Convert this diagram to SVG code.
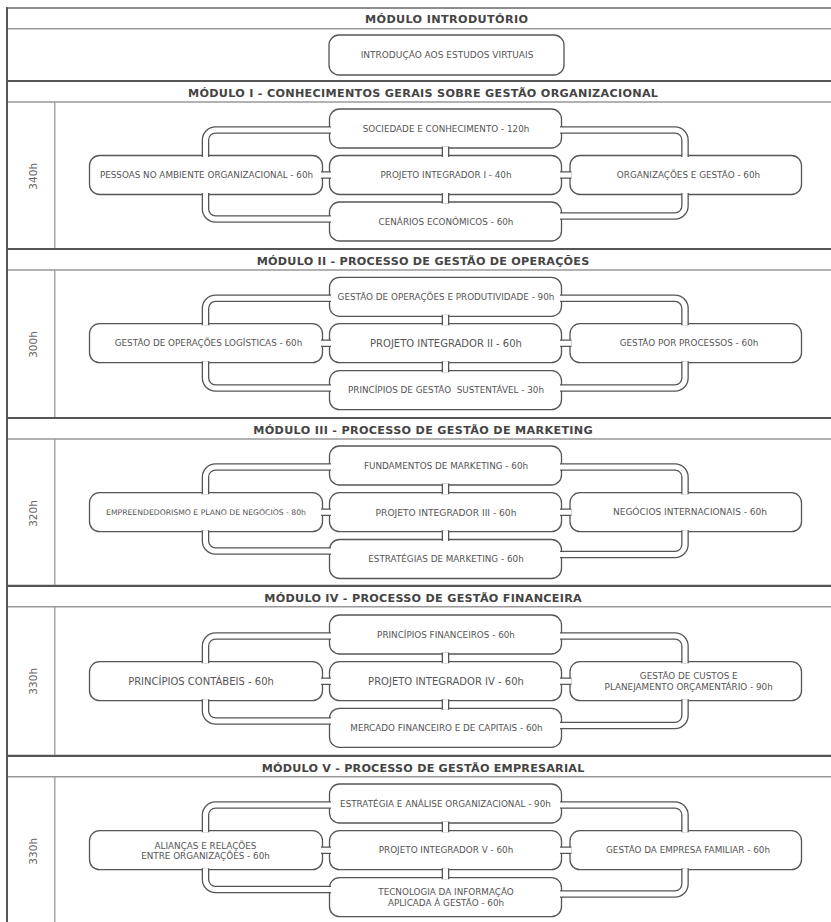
<svg xmlns="http://www.w3.org/2000/svg" xmlns:xlink="http://www.w3.org/1999/xlink" width="831" height="922" viewBox="0 0 831 922">
<style>
.box{fill:#fff;stroke:#555;stroke-width:1.3}
.t{font-family:"DejaVu Sans",Verdana,sans-serif;font-size:8.8px;fill:#555;text-anchor:middle}
.big{font-size:10px}
.h{font-family:"DejaVu Sans",Verdana,sans-serif;font-weight:bold;font-size:11.2px;fill:#444;text-anchor:middle}
.hr{font-family:"DejaVu Sans",Verdana,sans-serif;font-size:10.5px;fill:#666;text-anchor:middle}
.pg{fill:none;stroke:#555;stroke-width:7.6}
.pw{fill:none;stroke:#fff;stroke-width:5}
.thick{stroke:#555;stroke-width:2.2}
.thin{stroke:#999;stroke-width:1.5}
.div{stroke:#999;stroke-width:1.3}
</style>
<defs>
<!-- Module I -->
<path id="c1a" d="M331,130 H215.5 A10 10 0 0 0 205.5,140 V157"/>
<path id="c1b" d="M205.5,193 V209 A10 10 0 0 0 215.5,219 H331"/>
<path id="c1c" d="M560,130 H675 A10 10 0 0 1 685,140 V157"/>
<path id="c1d" d="M685,193 V206 A10 10 0 0 1 675,216 H560"/>
<path id="c1e" d="M445.5,146.5 V157 M445.5,193 V203.5"/>
<path id="c1f" d="M321,175 H331 M560,175 H571.5"/>
<!-- Module II -->
<path id="c2a" d="M331,298.3 H215.5 A10 10 0 0 0 205.5,308.3 V325.2"/>
<path id="c2b" d="M205.5,361.2 V378 A10 10 0 0 0 215.5,388 H331"/>
<path id="c2c" d="M560,298.3 H675 A10 10 0 0 1 685,308.3 V325.2"/>
<path id="c2d" d="M685,361.2 V378 A10 10 0 0 1 675,388 H560"/>
<path id="c2e" d="M445.5,314.8 V325.2 M445.5,361.2 V372.2"/>
<path id="c2f" d="M321,343.2 H331 M560,343.2 H571.5"/>
<!-- Module III -->
<path id="c3a" d="M331,467 H215.5 A10 10 0 0 0 205.5,477 V494.2"/>
<path id="c3b" d="M205.5,530.2 V541 A10 10 0 0 0 215.5,551 H331"/>
<path id="c3c" d="M560,467 H675 A10 10 0 0 1 685,477 V494.2"/>
<path id="c3d" d="M685,530.2 V544.5 A10 10 0 0 1 675,554.5 H560"/>
<path id="c3e" d="M445.5,483.5 V494.2 M445.5,530.2 V541"/>
<path id="c3f" d="M321,512.2 H331 M560,512.2 H571.5"/>
<!-- Module IV -->
<path id="c4a" d="M331,636 H215.5 A10 10 0 0 0 205.5,646 V663.2"/>
<path id="c4b" d="M205.5,699.2 V711 A10 10 0 0 0 215.5,721 H331"/>
<path id="c4c" d="M560,636 H675 A10 10 0 0 1 685,646 V663.2"/>
<path id="c4d" d="M685,699.2 V715.5 A10 10 0 0 1 675,725.5 H560"/>
<path id="c4e" d="M445.5,652.5 V663.2 M445.5,699.2 V709.8"/>
<path id="c4f" d="M321,681.2 H331 M560,681.2 H571.5"/>
<!-- Module V -->
<path id="c5a" d="M331,805 H215.5 A10 10 0 0 0 205.5,815 V832.2"/>
<path id="c5b" d="M205.5,868.2 V879.5 A10 10 0 0 0 215.5,889.5 H331"/>
<path id="c5c" d="M560,805 H675 A10 10 0 0 1 685,815 V832.2"/>
<path id="c5d" d="M685,868.2 V884 A10 10 0 0 1 675,894 H560"/>
<path id="c5e" d="M445.5,821.5 V832.2 M445.5,868.2 V879.2"/>
<path id="c5f" d="M321,850.2 H331 M560,850.2 H571.5"/>
</defs>

<g id="grid">
<line x1="6" y1="8" x2="831" y2="8" stroke="#666" stroke-width="1.5"/>
<line x1="6" y1="28.7" x2="831" y2="28.7" class="thin"/>
<line x1="6" y1="81" x2="831" y2="81" class="thick"/>
<line x1="6" y1="102" x2="831" y2="102" class="thin"/>
<line x1="6" y1="249" x2="831" y2="249" class="thick"/>
<line x1="6" y1="270" x2="831" y2="270" class="thin"/>
<line x1="6" y1="418" x2="831" y2="418" class="thick"/>
<line x1="6" y1="439" x2="831" y2="439" class="thin"/>
<line x1="6" y1="585.8" x2="831" y2="585.8" class="thick"/>
<line x1="6" y1="606.8" x2="831" y2="606.8" class="thin"/>
<line x1="6" y1="755.8" x2="831" y2="755.8" class="thick"/>
<line x1="6" y1="776.8" x2="831" y2="776.8" class="thin"/>
<line x1="54.8" y1="102" x2="54.8" y2="248" class="div"/>
<line x1="54.8" y1="270" x2="54.8" y2="417" class="div"/>
<line x1="54.8" y1="439" x2="54.8" y2="585" class="div"/>
<line x1="54.8" y1="606.8" x2="54.8" y2="755" class="div"/>
<line x1="54.8" y1="776.8" x2="54.8" y2="922" class="div"/>
<line x1="7" y1="7.3" x2="7" y2="922" stroke="#555" stroke-width="2"/>
</g>

<g id="headers">
<text class="h" x="446.5" y="23.3" textLength="163" lengthAdjust="spacing">MÓDULO INTRODUTÓRIO</text>
<text class="h" x="423" y="96.8" textLength="470" lengthAdjust="spacing">MÓDULO I - CONHECIMENTOS GERAIS SOBRE GESTÃO ORGANIZACIONAL</text>
<text class="h" x="423" y="264.8" textLength="332.6" lengthAdjust="spacing">MÓDULO II - PROCESSO DE GESTÃO DE OPERAÇÕES</text>
<text class="h" x="423" y="433.8" textLength="339.4" lengthAdjust="spacing">MÓDULO III - PROCESSO DE GESTÃO DE MARKETING</text>
<text class="h" x="423" y="601.6" textLength="317.4" lengthAdjust="spacing">MÓDULO IV - PROCESSO DE GESTÃO FINANCEIRA</text>
<text class="h" x="423" y="771.6" textLength="322.6" lengthAdjust="spacing">MÓDULO V - PROCESSO DE GESTÃO EMPRESARIAL</text>
</g>

<g id="hours">
<text class="hr" transform="translate(36.5,176.3) rotate(-90)">340h</text>
<text class="hr" transform="translate(36.5,344.5) rotate(-90)">300h</text>
<text class="hr" transform="translate(36.5,513.5) rotate(-90)">320h</text>
<text class="hr" transform="translate(36.5,681.3) rotate(-90)">330h</text>
<text class="hr" transform="translate(36.5,851.3) rotate(-90)">330h</text>
</g>

<g id="intro"><rect class="box" x="329" y="35" width="235" height="40" rx="10"/><text class="t" style="font-size:9px" x="447" y="58.3">INTRODUÇÃO AOS ESTUDOS VIRTUAIS</text></g>

<!-- Module I nodes -->
<g id="m1-top"><rect class="box" x="329.5" y="109" width="232" height="39" rx="10"/><text class="t" x="446" y="131.7">SOCIEDADE E CONHECIMENTO - 120h</text></g>
<g id="m1-mid"><rect class="box" x="329.5" y="155.5" width="232" height="39" rx="10"/><text class="t" x="446" y="178.2">PROJETO INTEGRADOR I - 40h</text></g>
<g id="m1-bot"><rect class="box" x="329.5" y="202" width="232" height="39" rx="10"/><text class="t" x="446" y="224.7">CENÁRIOS ECONÔMICOS - 60h</text></g>
<g id="m1-left"><rect class="box" x="89.5" y="155.5" width="233" height="39" rx="10"/><text class="t" x="206.5" y="178.2">PESSOAS NO AMBIENTE ORGANIZACIONAL - 60h</text></g>
<g id="m1-right"><rect class="box" x="570" y="155.5" width="231.5" height="39" rx="10"/><text class="t" x="688.5" y="178.2">ORGANIZAÇÕES E GESTÃO - 60h</text></g>

<!-- Module II nodes -->
<g id="m2-top"><rect class="box" x="329.5" y="277.3" width="232" height="39" rx="10"/><text class="t" x="446" y="300">GESTÃO DE OPERAÇÕES E PRODUTIVIDADE - 90h</text></g>
<g id="m2-mid"><rect class="box" x="329.5" y="323.7" width="232" height="39" rx="10"/><text class="t big" x="446" y="346.8">PROJETO INTEGRADOR II - 60h</text></g>
<g id="m2-bot"><rect class="box" x="329.5" y="370.7" width="232" height="39" rx="10"/><text class="t" x="446" y="393.4" xml:space="preserve">PRINCÍPIOS DE GESTÃO  SUSTENTÁVEL - 30h</text></g>
<g id="m2-left"><rect class="box" x="89.5" y="323.7" width="233" height="39" rx="10"/><text class="t" x="208.5" y="346.4">GESTÃO DE OPERAÇÕES LOGÍSTICAS - 60h</text></g>
<g id="m2-right"><rect class="box" x="570" y="323.7" width="231.5" height="39" rx="10"/><text class="t" x="689" y="346.4">GESTÃO POR PROCESSOS - 60h</text></g>

<!-- Module III nodes -->
<g id="m3-top"><rect class="box" x="329.5" y="446" width="232" height="39" rx="10"/><text class="t" x="446" y="468.7">FUNDAMENTOS DE MARKETING - 60h</text></g>
<g id="m3-mid"><rect class="box" x="329.5" y="492.7" width="232" height="39" rx="10"/><text class="t" style="font-size:9.1px" x="446" y="515.5">PROJETO INTEGRADOR III - 60h</text></g>
<g id="m3-bot"><rect class="box" x="329.5" y="539.5" width="232" height="39" rx="10"/><text class="t" x="446" y="562.2">ESTRATÉGIAS DE MARKETING - 60h</text></g>
<g id="m3-left"><rect class="box" x="89.5" y="492.7" width="233" height="39" rx="10"/><text class="t" style="font-size:7.7px" x="206" y="515">EMPREENDEDORISMO E PLANO DE NEGÓCIOS - 80h</text></g>
<g id="m3-right"><rect class="box" x="570" y="492.7" width="231.5" height="39" rx="10"/><text class="t" style="font-size:9px" x="690" y="515.4">NEGÓCIOS INTERNACIONAIS - 60h</text></g>

<!-- Module IV nodes -->
<g id="m4-top"><rect class="box" x="329.5" y="615" width="232" height="39" rx="10"/><text class="t" x="446" y="637.7">PRINCÍPIOS FINANCEIROS - 60h</text></g>
<g id="m4-mid"><rect class="box" x="329.5" y="661.7" width="232" height="39" rx="10"/><text class="t big" x="446" y="684.8">PROJETO INTEGRADOR IV - 60h</text></g>
<g id="m4-bot"><rect class="box" x="329.5" y="708.3" width="232" height="39" rx="10"/><text class="t" x="446.5" y="731">MERCADO FINANCEIRO E DE CAPITAIS - 60h</text></g>
<g id="m4-left"><rect class="box" x="89.5" y="661.7" width="233" height="39" rx="10"/><text class="t big" x="201" y="684.8">PRINCÍPIOS CONTÁBEIS - 60h</text></g>
<g id="m4-right"><rect class="box" x="570" y="661.7" width="231.5" height="39" rx="10"/><text class="t" x="688.7" y="679.4">GESTÃO DE CUSTOS E</text><text class="t" x="688.7" y="689.9">PLANEJAMENTO ORÇAMENTÁRIO - 90h</text></g>

<!-- Module V nodes -->
<g id="m5-top"><rect class="box" x="329.5" y="784" width="232" height="39" rx="10"/><text class="t" x="445.5" y="806.7">ESTRATÉGIA E ANÁLISE ORGANIZACIONAL - 90h</text></g>
<g id="m5-mid"><rect class="box" x="329.5" y="830.7" width="232" height="39" rx="10"/><text class="t" x="446" y="853.4">PROJETO INTEGRADOR V - 60h</text></g>
<g id="m5-bot"><rect class="box" x="329.5" y="877.7" width="232" height="39" rx="10"/><text class="t" x="446" y="895">TECNOLOGIA DA INFORMAÇÃO</text><text class="t" x="446" y="905.5">APLICADA À GESTÃO - 60h</text></g>
<g id="m5-left"><rect class="box" x="89.5" y="830.7" width="233" height="39" rx="10"/><text class="t" x="205.5" y="848.9">ALIANÇAS E RELAÇÕES</text><text class="t" x="205.5" y="859.2">ENTRE ORGANIZAÇÕES - 60h</text></g>
<g id="m5-right"><rect class="box" x="570" y="830.7" width="231.5" height="39" rx="10"/><text class="t" x="688" y="853.4">GESTÃO DA EMPRESA FAMILIAR - 60h</text></g>

<g id="connectors">
<use xlink:href="#c1a" class="pg"/><use xlink:href="#c1a" class="pw"/>
<use xlink:href="#c1b" class="pg"/><use xlink:href="#c1b" class="pw"/>
<use xlink:href="#c1c" class="pg"/><use xlink:href="#c1c" class="pw"/>
<use xlink:href="#c1d" class="pg"/><use xlink:href="#c1d" class="pw"/>
<use xlink:href="#c1e" class="pg"/><use xlink:href="#c1e" class="pw"/>
<use xlink:href="#c1f" class="pg"/><use xlink:href="#c1f" class="pw"/>
<use xlink:href="#c2a" class="pg"/><use xlink:href="#c2a" class="pw"/>
<use xlink:href="#c2b" class="pg"/><use xlink:href="#c2b" class="pw"/>
<use xlink:href="#c2c" class="pg"/><use xlink:href="#c2c" class="pw"/>
<use xlink:href="#c2d" class="pg"/><use xlink:href="#c2d" class="pw"/>
<use xlink:href="#c2e" class="pg"/><use xlink:href="#c2e" class="pw"/>
<use xlink:href="#c2f" class="pg"/><use xlink:href="#c2f" class="pw"/>
<use xlink:href="#c3a" class="pg"/><use xlink:href="#c3a" class="pw"/>
<use xlink:href="#c3b" class="pg"/><use xlink:href="#c3b" class="pw"/>
<use xlink:href="#c3c" class="pg"/><use xlink:href="#c3c" class="pw"/>
<use xlink:href="#c3d" class="pg"/><use xlink:href="#c3d" class="pw"/>
<use xlink:href="#c3e" class="pg"/><use xlink:href="#c3e" class="pw"/>
<use xlink:href="#c3f" class="pg"/><use xlink:href="#c3f" class="pw"/>
<use xlink:href="#c4a" class="pg"/><use xlink:href="#c4a" class="pw"/>
<use xlink:href="#c4b" class="pg"/><use xlink:href="#c4b" class="pw"/>
<use xlink:href="#c4c" class="pg"/><use xlink:href="#c4c" class="pw"/>
<use xlink:href="#c4d" class="pg"/><use xlink:href="#c4d" class="pw"/>
<use xlink:href="#c4e" class="pg"/><use xlink:href="#c4e" class="pw"/>
<use xlink:href="#c4f" class="pg"/><use xlink:href="#c4f" class="pw"/>
<use xlink:href="#c5a" class="pg"/><use xlink:href="#c5a" class="pw"/>
<use xlink:href="#c5b" class="pg"/><use xlink:href="#c5b" class="pw"/>
<use xlink:href="#c5c" class="pg"/><use xlink:href="#c5c" class="pw"/>
<use xlink:href="#c5d" class="pg"/><use xlink:href="#c5d" class="pw"/>
<use xlink:href="#c5e" class="pg"/><use xlink:href="#c5e" class="pw"/>
<use xlink:href="#c5f" class="pg"/><use xlink:href="#c5f" class="pw"/>
</g>
</svg>
